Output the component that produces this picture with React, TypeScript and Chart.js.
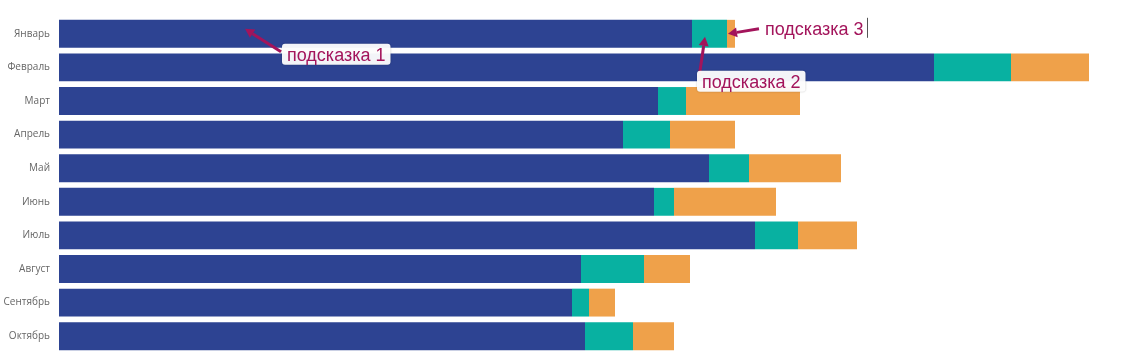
import React, { useEffect, useRef } from "react";
import { Chart, registerables } from "chart.js";

Chart.register(...registerables);

const categories = ["Январь", "Февраль", "Март", "Апрель", "Май", "Июнь", "Июль", "Август", "Сентябрь", "Октябрь"];
const seriesA = [633, 875, 599, 564, 650, 595, 696, 522, 513, 526];
const seriesB = [35, 77, 28, 47, 40, 20, 43, 63, 17, 48];
const seriesC = [8, 78, 114, 65, 92, 102, 59, 46, 26, 41];
const xMax = 1084;

const noteColor = "#a3145b";

const annotationPlugin = {
  id: "notes",
  afterDraw(chart: any) {
    const ctx = chart.ctx;
    const xs = chart.scales.x;
    const ys = chart.scales.y;
    const y0 = ys.getPixelForValue(0);
    const px = (v: number) => xs.getPixelForValue(v);

    const arrow = (x1: number, y1: number, x2: number, y2: number) => {
      const ang = Math.atan2(y2 - y1, x2 - x1);
      const head = 9;
      const hw = 5;
      const bx = x2 - head * Math.cos(ang);
      const by = y2 - head * Math.sin(ang);
      ctx.save();
      ctx.strokeStyle = noteColor;
      ctx.fillStyle = noteColor;
      ctx.lineWidth = 3;
      ctx.beginPath();
      ctx.moveTo(x1, y1);
      ctx.lineTo(bx, by);
      ctx.stroke();
      ctx.beginPath();
      ctx.moveTo(x2, y2);
      ctx.lineTo(bx + hw * Math.sin(ang), by - hw * Math.cos(ang));
      ctx.lineTo(bx - hw * Math.sin(ang), by + hw * Math.cos(ang));
      ctx.closePath();
      ctx.fill();
      ctx.restore();
    };

    const label = (text: string, x: number, baseline: number, box: boolean) => {
      ctx.save();
      ctx.font = "18px 'Liberation Sans', Arial, sans-serif";
      const w = ctx.measureText(text).width;
      if (box) {
        const bx = x - 5, by = baseline - 17, bw = w + 10, bh = 21;
        ctx.shadowColor = "rgba(0,0,0,0.25)";
        ctx.shadowBlur = 2;
        ctx.fillStyle = "rgba(255,255,255,0.95)";
        ctx.beginPath();
        ctx.roundRect(bx, by, bw, bh, 3);
        ctx.fill();
        ctx.shadowColor = "transparent";
      }
      ctx.fillStyle = noteColor;
      ctx.textBaseline = "alphabetic";
      ctx.fillText(text, x, baseline);
      ctx.restore();
      return w;
    };

    // note 1
    arrow(px(222), y0 + 18, px(186), y0 - 5);
    label("подсказка 1", px(228), y0 + 27, true);

    // note 2
    arrow(px(640), y0 + 44, px(646), y0 + 3);
    label("подсказка 2", px(643), y0 + 54, true);

    // note 3
    arrow(px(700), y0 - 5, px(669), y0);
    const w3 = label("подсказка 3", px(706), y0 + 1, false);
    ctx.save();
    ctx.strokeStyle = "#555";
    ctx.lineWidth = 1;
    ctx.beginPath();
    ctx.moveTo(Math.round(px(706) + w3 + 4) + 0.5, y0 - 16);
    ctx.lineTo(Math.round(px(706) + w3 + 4) + 0.5, y0 + 4);
    ctx.stroke();
    ctx.restore();
  },
};

export default function App() {
  const ref = useRef<HTMLCanvasElement>(null);
  useEffect(() => {
    if (!ref.current) return;
    const chart = new Chart(ref.current, {
      type: "bar",
      data: {
        labels: categories,
        datasets: [
          { label: "A", data: seriesA, backgroundColor: "#2d4392" },
          { label: "B", data: seriesB, backgroundColor: "#08b1a1" },
          { label: "C", data: seriesC, backgroundColor: "#efa14a" },
        ],
      },
      options: {
        indexAxis: "y",
        animation: false,
        responsive: false,
        maintainAspectRatio: false,
        layout: { padding: { top: 17, bottom: 0, left: 0, right: 0 } },
        datasets: { bar: { barPercentage: 0.83, categoryPercentage: 1 } },
        plugins: { legend: { display: false }, tooltip: { enabled: false } },
        scales: {
          x: { stacked: true, display: false, min: 0, max: xMax },
          y: {
            stacked: true,
            grid: { display: false },
            border: { display: false },
            ticks: {
              color: "#666",
              padding: 1,
              font: { family: "'Open Sans', sans-serif", size: 10 },
            },
            afterFit: (s: any) => {
              s.width = 59;
              s.paddingTop = 0;
              s.paddingBottom = 0;
            },
          },
        },
      },
      plugins: [annotationPlugin],
    });
    return () => chart.destroy();
  }, []);
  return (
    <div style={{ position: "fixed", left: 0, top: 0, width: 1143, height: 353, background: "#fff" }}>
      <canvas ref={ref} width={1143} height={353} style={{ display: "block" }} />
    </div>
  );
}
